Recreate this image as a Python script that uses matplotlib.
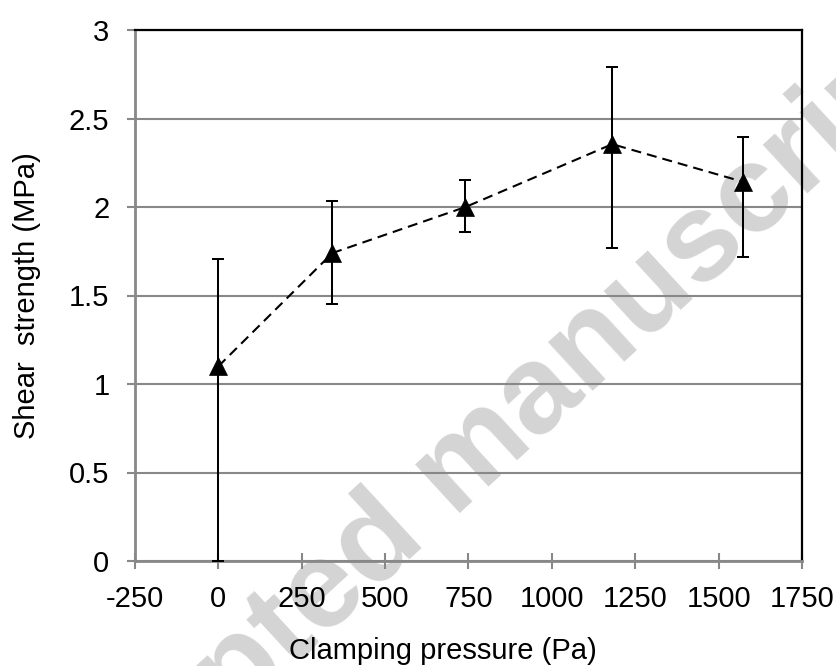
import matplotlib
matplotlib.use("Agg")
import matplotlib.pyplot as plt
from matplotlib.ticker import FuncFormatter
import numpy as np

# ---- data ----
pressure = [0, 342, 741, 1181, 1572]
strength = [1.10, 1.74, 2.00, 2.355, 2.143]
err_bottom = [0.0, 1.453, 1.860, 1.767, 1.716]
err_top = [1.709, 2.036, 2.151, 2.789, 2.394]

x_ticks = [-250, 0, 250, 500, 750, 1000, 1250, 1500, 1750]
y_ticks = [0, 0.5, 1, 1.5, 2, 2.5, 3]
x_label = "Clamping pressure (Pa)"
y_label = "Shear  strength (MPa)"
watermark = "Accepted manuscript"

plt.rcParams['font.family'] = ['Liberation Sans', 'DejaVu Sans']

W, H = 837, 666
fig = plt.figure(figsize=(W / 100, H / 100), dpi=100)
ax = fig.add_axes([135 / W, 1 - 561 / H, (802 - 135) / W, (561 - 30) / H])
ax.set_facecolor('none')

# watermark (behind everything)
theta = 42.6
em = 125.0
wx, wy = 14.0, -257.0   # baseline start, pixels from bottom-left
fig.text(wx / W, wy / H, watermark, fontsize=em * 72 / 100, fontweight='bold',
         color='#d4d4d4', rotation=theta, rotation_mode='anchor',
         ha='left', va='baseline', zorder=-10)

y = np.array(strength)
yerr = np.array([y - np.array(err_bottom), np.array(err_top) - y])
ax.errorbar(pressure, strength, yerr=yerr, fmt='none', ecolor='black',
            elinewidth=1.45, capsize=4.2, capthick=1.45, zorder=3, clip_on=False)
ax.plot(pressure, strength, color='black', linewidth=1.5,
        linestyle=(0, (4.8, 2.9)), marker='^', markersize=13.5,
        markerfacecolor='black', markeredgecolor='black', markeredgewidth=0.5,
        zorder=4, clip_on=False)

ax.set_xlim(-250, 1750)
ax.set_ylim(0, 3)
ax.set_xticks(x_ticks)
ax.set_yticks(y_ticks)
fmt = FuncFormatter(lambda v, p: f"{v:g}")
ax.xaxis.set_major_formatter(fmt)
ax.yaxis.set_major_formatter(fmt)

grid_c = '#888888'
ax.yaxis.grid(True, color=grid_c, linewidth=1.5, zorder=1)
ax.set_axisbelow(True)

ax.spines['left'].set_color(grid_c)
ax.spines['bottom'].set_color(grid_c)
ax.spines['left'].set_linewidth(2)
ax.spines['bottom'].set_linewidth(2)
ax.spines['top'].set_color('black')
ax.spines['right'].set_color('black')
ax.spines['top'].set_linewidth(1.6)
ax.spines['right'].set_linewidth(1.6)

ax.tick_params(axis='x', direction='inout', length=11.5, width=1.5, color=grid_c,
               pad=11.3, labelsize=21, labelcolor='black')
ax.tick_params(axis='y', direction='out', length=6, width=1.5, color=grid_c,
               pad=12.4, labelsize=21, labelcolor='black')

ax.set_xlabel(x_label, fontsize=21)
ax.set_ylabel(y_label, fontsize=21)
ax.xaxis.set_label_coords((443 - 135) / 667, (561 - 637) / 531)
ax.yaxis.set_label_coords((41 - 135) / 667, 0.5)

fig.savefig("out.png", dpi=100)
